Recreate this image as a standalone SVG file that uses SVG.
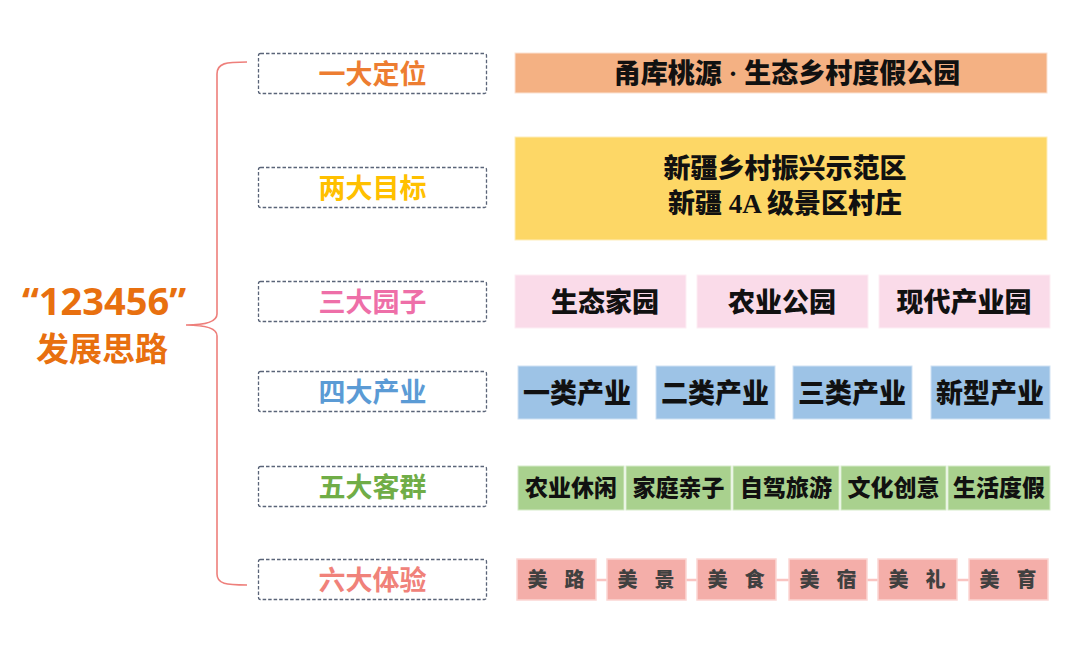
<svg xmlns="http://www.w3.org/2000/svg" width="1080" height="652" viewBox="0 0 1080 652">
<style>
.lbl{fill:none;stroke:#5A6478;stroke-width:1.3;stroke-dasharray:3.5 2}
.lt{font-family:"Noto Sans CJK SC",sans-serif;font-weight:700;font-size:27px;text-anchor:middle}
.rt{font-family:"Liberation Serif","Noto Sans CJK SC",serif;font-weight:900;font-size:27px;text-anchor:middle;fill:#111}
.r5{font-size:23px}
.r6{font-size:20px;fill:#404040;letter-spacing:6px}
.title{font-family:"Open Sans","Noto Sans CJK SC",sans-serif;font-weight:700;fill:#E8700F;text-anchor:middle}
</style>
<rect width="1080" height="652" fill="#fff"/>
<g id="title">
<text class="title" x="104" y="315" font-size="38">“123456”</text>
<text class="title" x="102" y="361" font-size="33" font-family="Noto Sans CJK SC, sans-serif">发展思路</text>
</g>
<g id="brace">
<path d="M247,62 C226,62 217,63 217,74 L217,314 C217,322 205,325 186,325 C205,325 217,328 217,336 L217,574 C217,584 226,585 247,585" fill="none" stroke="#EE7F7B" stroke-width="1.6"/>
</g>
<g id="connectors">
<line x1="596" y1="580" x2="969" y2="580" stroke="#F9C4C1" stroke-width="2.5"/>
</g>
<g id="row1">
<rect class="lbl" x="258.5" y="53.5" width="228" height="40" rx="2"/>
<text class="lt" x="372.5" y="84" fill="#ED7D31">一大定位</text>
<rect x="515" y="53" width="532" height="40" fill="#F4B183" stroke="#FBE2D2" stroke-width="1"/>
<text class="rt" x="787" y="83">甬库桃源 · 生态乡村度假公园</text>
</g>
<g id="row2">
<rect class="lbl" x="258.5" y="167.5" width="228" height="40" rx="2"/>
<text class="lt" x="372.5" y="198" fill="#FFC000">两大目标</text>
<rect x="515" y="137" width="532" height="103" fill="#FDD766" stroke="#FEEDBB" stroke-width="1"/>
<text class="rt" x="785" y="178">新疆乡村振兴示范区</text>
<text class="rt" x="785" y="213">新疆 4A 级景区村庄</text>
</g>
<g id="row3">
<rect class="lbl" x="258.5" y="281.5" width="228" height="40" rx="2"/>
<text class="lt" x="372.5" y="312" fill="#EE6FA8">三大园子</text>
<rect x="515" y="275" width="171" height="53" fill="#FADBE9" stroke="#FDEEF4"/>
<text class="rt" x="605" y="312">生态家园</text>
<rect x="697" y="275" width="171" height="53" fill="#FADBE9" stroke="#FDEEF4"/>
<text class="rt" x="782" y="312">农业公园</text>
<rect x="879" y="275" width="171" height="53" fill="#FADBE9" stroke="#FDEEF4"/>
<text class="rt" x="964" y="312">现代产业园</text>
</g>
<g id="row4">
<rect class="lbl" x="258.5" y="371.5" width="228" height="40" rx="2"/>
<text class="lt" x="372.5" y="402" fill="#5B9BD5">四大产业</text>
<rect x="518" y="366" width="119" height="53" fill="#9DC3E6" stroke="#CFE1F3"/>
<text class="rt" x="577" y="403">一类产业</text>
<rect x="656" y="366" width="119" height="53" fill="#9DC3E6" stroke="#CFE1F3"/>
<text class="rt" x="715" y="403">二类产业</text>
<rect x="793" y="366" width="119" height="53" fill="#9DC3E6" stroke="#CFE1F3"/>
<text class="rt" x="852" y="403">三类产业</text>
<rect x="931" y="366" width="119" height="53" fill="#9DC3E6" stroke="#CFE1F3"/>
<text class="rt" x="990" y="403">新型产业</text>
</g>
<g id="row5">
<rect class="lbl" x="258.5" y="466.5" width="228" height="40" rx="2"/>
<text class="lt" x="372.5" y="497" fill="#70AD47">五大客群</text>
<rect x="518" y="466" width="106" height="44" fill="#A9D18E" stroke="#D6EBC9"/>
<text class="rt r5" x="571" y="496">农业休闲</text>
<rect x="626" y="466" width="105" height="44" fill="#A9D18E" stroke="#D6EBC9"/>
<text class="rt r5" x="678.5" y="496">家庭亲子</text>
<rect x="733" y="466" width="106" height="44" fill="#A9D18E" stroke="#D6EBC9"/>
<text class="rt r5" x="786" y="496">自驾旅游</text>
<rect x="841" y="466" width="105" height="44" fill="#A9D18E" stroke="#D6EBC9"/>
<text class="rt r5" x="893.5" y="496">文化创意</text>
<rect x="948" y="466" width="102" height="44" fill="#A9D18E" stroke="#D6EBC9"/>
<text class="rt r5" x="999" y="496">生活度假</text>
</g>
<g id="row6">
<rect class="lbl" x="258.5" y="559.5" width="228" height="40" rx="2"/>
<text class="lt" x="372.5" y="590" fill="#F0827A">六大体验</text>
<rect x="517" y="559" width="79" height="41" fill="#F4AEA9" stroke="#FCD6D3" stroke-width="1.5"/>
<text class="rt r6" x="559" y="587">美 路</text>
<rect x="607" y="559" width="79" height="41" fill="#F4AEA9" stroke="#FCD6D3" stroke-width="1.5"/>
<text class="rt r6" x="649" y="587">美 景</text>
<rect x="697" y="559" width="79" height="41" fill="#F4AEA9" stroke="#FCD6D3" stroke-width="1.5"/>
<text class="rt r6" x="739" y="587">美 食</text>
<rect x="789" y="559" width="78" height="41" fill="#F4AEA9" stroke="#FCD6D3" stroke-width="1.5"/>
<text class="rt r6" x="831" y="587">美 宿</text>
<rect x="878" y="559" width="79" height="41" fill="#F4AEA9" stroke="#FCD6D3" stroke-width="1.5"/>
<text class="rt r6" x="920" y="587">美 礼</text>
<rect x="969" y="559" width="79" height="41" fill="#F4AEA9" stroke="#FCD6D3" stroke-width="1.5"/>
<text class="rt r6" x="1011" y="587">美 育</text>
</g>
</svg>
